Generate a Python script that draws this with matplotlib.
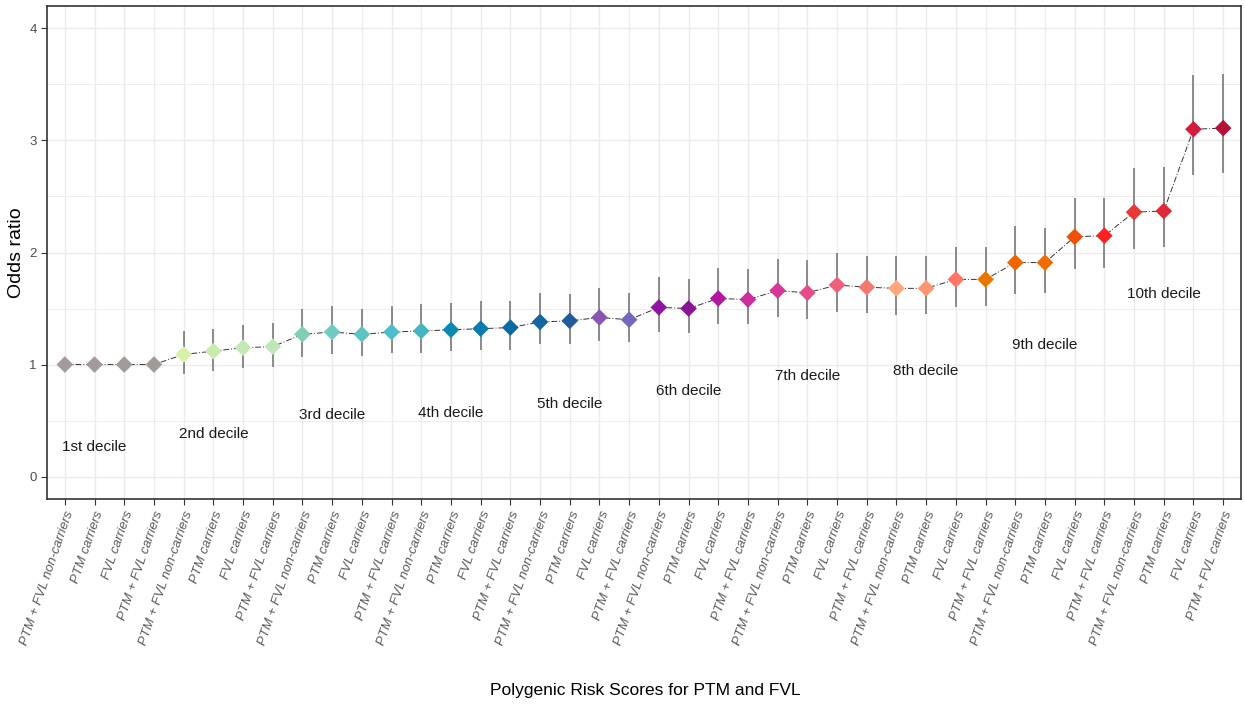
import matplotlib
matplotlib.use("Agg")
import matplotlib.pyplot as plt
import numpy as np

groups = ["PTM + FVL non-carriers", "PTM carriers", "FVL carriers", "PTM + FVL carriers"]
deciles = ["1st decile", "2nd decile", "3rd decile", "4th decile", "5th decile",
           "6th decile", "7th decile", "8th decile", "9th decile", "10th decile"]
tick_labels = groups * 10

odds_ratio = [1.00, 1.00, 1.00, 1.00,
              1.09, 1.12, 1.15, 1.16,
              1.27, 1.29, 1.27, 1.29,
              1.30, 1.31, 1.32, 1.33,
              1.38, 1.39, 1.42, 1.40,
              1.51, 1.50, 1.59, 1.58,
              1.66, 1.64, 1.71, 1.69,
              1.68, 1.68, 1.76, 1.76,
              1.91, 1.91, 2.14, 2.15,
              2.36, 2.37, 3.10, 3.11]
ci_low = [1.00, 1.00, 1.00, 1.00,
          0.92, 0.94, 0.97, 0.98,
          1.07, 1.09, 1.08, 1.10,
          1.10, 1.12, 1.13, 1.13,
          1.18, 1.18, 1.21, 1.20,
          1.29, 1.28, 1.36, 1.36,
          1.42, 1.41, 1.47, 1.46,
          1.44, 1.45, 1.51, 1.52,
          1.63, 1.64, 1.85, 1.86,
          2.03, 2.05, 2.69, 2.71]
ci_high = [1.00, 1.00, 1.00, 1.00,
           1.30, 1.32, 1.35, 1.37,
           1.50, 1.52, 1.50, 1.52,
           1.54, 1.55, 1.57, 1.57,
           1.64, 1.63, 1.68, 1.64,
           1.78, 1.76, 1.86, 1.85,
           1.94, 1.93, 2.00, 1.97,
           1.97, 1.97, 2.05, 2.05,
           2.24, 2.22, 2.49, 2.49,
           2.75, 2.76, 3.58, 3.59]
colors = ["#A39A9A", "#A39A9A", "#A39A9A", "#A39A9A",
          "#D7F1A8", "#C9EBAE", "#C2E8B4", "#BFE6B8",
          "#80CDB8", "#6DCBBF", "#5EC3C3", "#4CBDCB",
          "#41B6C0", "#0A8AB0", "#0A7BAF", "#086CA3",
          "#1565A0", "#225C98", "#8856B0", "#7766BB",
          "#8E17A0", "#8A1493", "#B0189E", "#CC2C9C",
          "#D9359A", "#E54C8A", "#EF5F7D", "#F27A6E",
          "#FFA67A", "#FF9670", "#FF7668", "#E87700",
          "#EE6600", "#F06C00", "#F24F0A", "#FE1F20",
          "#E83835", "#E02838", "#D01E3C", "#B71039"]

plt.rcParams["font.family"] = ["Liberation Sans", "DejaVu Sans"]

fig = plt.figure(figsize=(12.45, 7.05), dpi=100)
ax = fig.add_axes([47 / 1245, 1 - 499 / 705, (1241 - 47) / 1245, (499 - 6) / 705])

x = np.arange(1, len(odds_ratio) + 1)
orv = np.array(odds_ratio)
lo = np.array(ci_low)
hi = np.array(ci_high)

ax.vlines(x, lo, hi, color="#6E6E6E", lw=1.1, zorder=2)
ax.plot(x, orv, color="#333333", lw=0.7, ls=(0, (6, 2, 1, 2)), zorder=3)
ax.scatter(x, orv, c=colors, marker="D", s=72, zorder=4, linewidths=0)

for k, lab in enumerate(deciles):
    i = 4 * k + 1
    ax.text(x[i], orv[i] - 0.74, lab, ha="center", va="center", fontsize=11, color="#1A1A1A")

ax.set_xlim(0.4, 40.6)
ax.set_ylim(-0.2, 4.2)
ax.set_yticks([0, 1, 2, 3, 4])
ax.set_yticks([0.5, 1.5, 2.5, 3.5], minor=True)
ax.set_xticks(x)
ax.set_xticklabels(tick_labels, rotation=71, ha="right", va="top",
                   rotation_mode="anchor", fontsize=9.5, style="italic", color="#5A5A5A")
ax.tick_params(axis="y", labelsize=9.5, labelcolor="#4D4D4D", color="#333333", length=4)
ax.tick_params(axis="x", color="#333333", length=4)
ax.tick_params(axis="y", which="minor", length=0)

ax.grid(True, which="major", color="#EBEBEB", lw=1.0)
ax.grid(True, which="minor", axis="y", color="#EBEBEB", lw=0.6)
ax.set_axisbelow(True)
for s in ax.spines.values():
    s.set_color("#333333")
    s.set_linewidth(1.2)

ax.set_ylabel("Odds ratio", fontsize=14, labelpad=3)
fig.text(645 / 1245, 1 - 690 / 705, "Polygenic Risk Scores for PTM and FVL",
         ha="center", va="center", fontsize=12.5)

fig.savefig("out.png", dpi=100)
